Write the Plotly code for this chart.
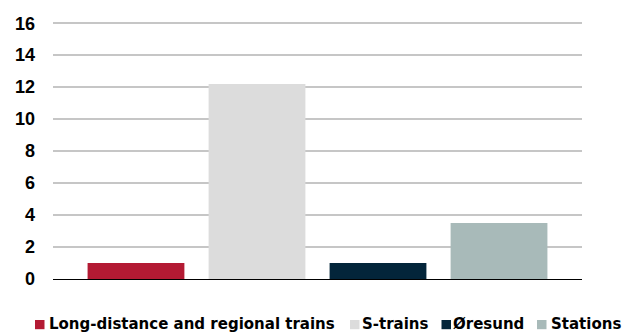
import plotly.graph_objects as go

# Investment by area (DKK bn)
category = ["2015"]
series_names = ["Long-distance and regional trains", "S-trains", "Øresund", "Stations"]
series_values = [[1.0], [12.2], [1.0], [3.5]]
series_colors = ["#B31A33", "#DCDCDC", "#03253A", "#A8BAB9"]
y_ticks = [0, 2, 4, 6, 8, 10, 12, 14, 16]

W, H = 624, 334
L, R, T, B = 53, 42, 20, 55
PW, PH = W - L - R, H - T - B


def px_x(px):
    """Page pixel -> paper x."""
    return (px - L) / PW


def px_y(py):
    """Page pixel -> paper y."""
    return (H - B - py) / PH


fig = go.Figure()
for name, vals, col in zip(series_names, series_values, series_colors):
    fig.add_trace(go.Bar(x=category, y=vals, name=name, marker_color=col,
                         marker_line_width=0, showlegend=False))

tick_font = "Liberation Sans"
legend_font = "DejaVu Sans"

# Legend row along the bottom: swatch + bold label per series
swatch_left = [35, 350, 441.5, 537]
label_left = [48.5, 362, 453, 551]
row_mid = 324.2
shapes, annotations = [], []
for name, col, sx, lx in zip(series_names, series_colors, swatch_left, label_left):
    shapes.append(dict(type="rect", xref="paper", yref="paper",
                       x0=px_x(sx), x1=px_x(sx + 9.5),
                       y0=px_y(row_mid + 5.0), y1=px_y(row_mid - 4.2),
                       fillcolor=col, line_width=0, layer="above"))
    annotations.append(dict(text=name, xref="paper", yref="paper",
                            x=px_x(lx - 1), y=px_y(row_mid),
                            xanchor="left", yanchor="middle", showarrow=False,
                            borderpad=0,
                            font=dict(family=legend_font, size=15,
                                      color="#000000", weight="bold")))

fig.update_layout(
    width=W, height=H,
    margin=dict(l=L, r=R, t=T, b=B),
    paper_bgcolor="white", plot_bgcolor="white",
    barmode="group", bargap=0.085, bargroupgap=0.2,
    font=dict(family=tick_font, size=15, color="#000000"),
    showlegend=False,
    shapes=shapes, annotations=annotations,
)
fig.update_xaxes(showticklabels=False, showgrid=False, zeroline=False,
                 showline=False, ticks="")
fig.update_yaxes(range=[0, 16.2], tickvals=y_ticks, showgrid=True,
                 gridcolor="#C6C6C6", gridwidth=2, zeroline=True,
                 zerolinecolor="#000000", zerolinewidth=1.2,
                 ticklabelstandoff=17,
                 tickfont=dict(family=tick_font, size=18, weight="bold",
                               color="#000000"))

fig.write_html("out.html")
